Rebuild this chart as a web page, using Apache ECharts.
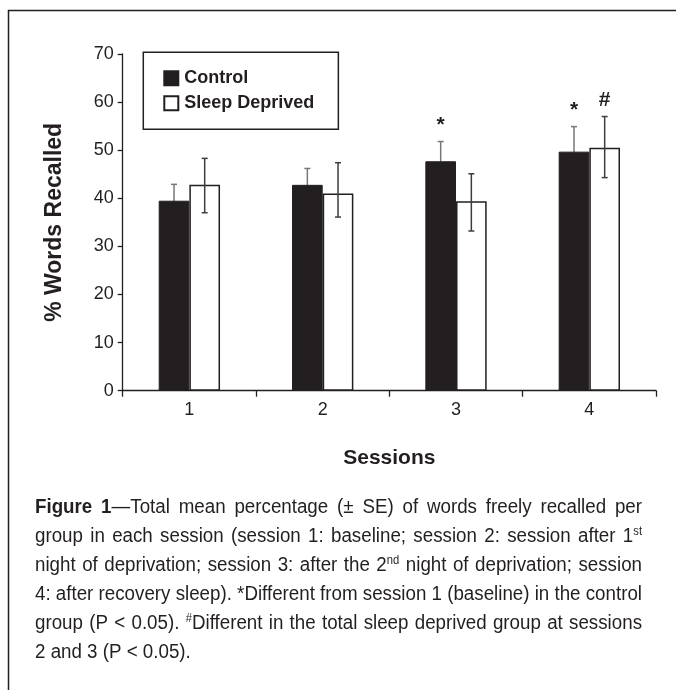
<!DOCTYPE html>
<html>
<head>
<meta charset="utf-8">
<script src="https://cdn.jsdelivr.net/npm/echarts@6/dist/echarts.min.js"></script>
<style>
html,body{margin:0;padding:0;background:#fff;}
#chart{width:676px;height:690px;}
</style>
</head>
<body>
<div id="chart"></div>
<script>
// ---- data ----
var categories = ['1', '2', '3', '4'];
var controlMean = [39.5, 42.8, 47.7, 49.7];
var controlLow  = [36.1, 39.4, 43.6, 44.5];
var controlHigh = [42.9, 46.2, 51.8, 54.9];
var sleepMean   = [42.8, 41.0, 39.4, 50.5];
var sleepLow    = [37.0, 36.1, 33.2, 44.3];
var sleepHigh   = [48.3, 47.4, 45.1, 57.0];
var controlMarks = ['', '', '*', '*'];
var sleepMarks   = ['', '', '', '#'];
var yMin = 0, yMax = 70, yStep = 10;
var seriesNames = ['Control', 'Sleep Deprived'];
var axisTitleX = 'Sessions';
var axisTitleY = '% Words Recalled';
var captionLines = [
  '{b|Figure 1}\u2014Total mean percentage (\u00b1 SE) of words freely recalled per',
  'group in each session (session 1: baseline; session 2: session after 1{sup|st}',
  'night of deprivation; session 3: after the 2{sup|nd} night of deprivation; session',
  '4: after recovery sleep). *Different from session 1 (baseline) in the control',
  'group (P < 0.05). {sup|#}Different in the total sleep deprived group at sessions',
  '2 and 3 (P < 0.05).'
];

// ---- style ----
var INK = '#231f20';
var FONT = '"Liberation Sans", Arial, sans-serif';
var BAR_FRAC = 0.23;

var chart = echarts.init(document.getElementById('chart'), null, {renderer: 'canvas'});

function errorRender(side, color) {
  return function (params, api) {
    var idx = api.value(0);
    var hi = api.coord([idx, api.value(2)]);
    var lo = api.coord([idx, api.value(1)]);
    var band = api.size([1, 0])[0];
    var cx = hi[0] + side * band * BAR_FRAC / 2;
    var cap = 3;
    var st = {stroke: color, lineWidth: 1.5};
    var mark = api.value(3);
    var children = [
      {type: 'line', shape: {x1: cx, y1: hi[1], x2: cx, y2: lo[1]}, style: st},
      {type: 'line', shape: {x1: cx - cap, y1: hi[1], x2: cx + cap, y2: hi[1]}, style: st},
      {type: 'line', shape: {x1: cx - cap, y1: lo[1], x2: cx + cap, y2: lo[1]}, style: st}
    ];
    if (mark) {
      children.push({type: 'text', style: {text: mark, x: cx, y: hi[1] - 6, align: 'center', verticalAlign: 'bottom',
        fontSize: 21, fontWeight: 'bold', fontFamily: FONT, fill: INK}});
    }
    return {type: 'group', children: children};
  };
}

// ---- caption (justified) ----
var CAP_LEFT = 35, CAP_RIGHT = 642, CAP_TOP = 507, CAP_STEP = 29;
var CAP_SIZE = 20, SUP_SIZE = 12;
var mctx = document.createElement('canvas').getContext('2d');
var richStyles = {
  n: {fontSize: CAP_SIZE, fontFamily: FONT, fill: INK, lineHeight: CAP_SIZE},
  b: {fontSize: CAP_SIZE, fontFamily: FONT, fontWeight: 'bold', fill: INK, lineHeight: CAP_SIZE},
  sup: {fontSize: SUP_SIZE, fontFamily: FONT, fill: INK, verticalAlign: 'top', lineHeight: SUP_SIZE}
};
function segWidth(seg) {
  var s = richStyles[seg.s];
  mctx.font = (s.fontWeight === 'bold' ? 'bold ' : '') + s.fontSize + 'px ' + FONT;
  return mctx.measureText(seg.t).width;
}
function parseLine(line) {
  var segs = [], re = /\{(\w+)\|([^}]*)\}/g, last = 0, m;
  while ((m = re.exec(line))) {
    if (m.index > last) segs.push({s: 'n', t: line.slice(last, m.index)});
    segs.push({s: m[1], t: m[2]});
    last = re.lastIndex;
  }
  if (last < line.length) segs.push({s: 'n', t: line.slice(last)});
  var words = [[]];
  segs.forEach(function (seg) {
    var parts = seg.t.split(' ');
    parts.forEach(function (p, k) {
      if (k > 0) words.push([]);
      if (p) words[words.length - 1].push({s: seg.s, t: p});
    });
  });
  return words.filter(function (w) { return w.length; });
}
mctx.font = CAP_SIZE + 'px ' + FONT;
var spaceW = mctx.measureText(' ').width;
var parsed = captionLines.map(function (line) {
  var words = parseLine(line);
  var widths = words.map(function (w) {
    return w.reduce(function (a, seg) { return a + segWidth(seg); }, 0);
  });
  var natural = widths.reduce(function (a, b) { return a + b; }, 0) + spaceW * (words.length - 1);
  return {words: words, widths: widths, natural: natural};
});
// horizontal condensing so that the tightest justified line fits exactly
var CAP_SCALE = 1;
parsed.forEach(function (p, li) {
  if (li < parsed.length - 1) CAP_SCALE = Math.min(CAP_SCALE, (CAP_RIGHT - CAP_LEFT) / p.natural);
});
var captionEls = [];
parsed.forEach(function (p, li) {
  var widths = p.widths.map(function (w) { return w * CAP_SCALE; });
  var total = widths.reduce(function (a, b) { return a + b; }, 0);
  var gap = spaceW * CAP_SCALE;
  if (li < parsed.length - 1 && p.words.length > 1) {
    gap = (CAP_RIGHT - CAP_LEFT - total) / (p.words.length - 1);
  }
  var x = CAP_LEFT;
  var y = CAP_TOP + li * CAP_STEP;
  p.words.forEach(function (w, wi) {
    captionEls.push({
      type: 'text', x: x, y: y, scaleX: CAP_SCALE, scaleY: 1, silent: true,
      style: {
        text: w.map(function (seg) { return '{' + seg.s + '|' + seg.t + '}'; }).join(''),
        rich: richStyles, x: 0, y: 0, align: 'left', verticalAlign: 'middle'
      }
    });
    x += widths[wi] + gap;
  });
});

var option = {
  animation: false,
  backgroundColor: '#fff',
  textStyle: {fontFamily: FONT, color: INK},
  grid: {left: 122.7, right: 20, top: 54, bottom: 299.3, containLabel: false},
  legend: {
    data: seriesNames, orient: 'vertical', left: 143.3, top: 52.3,
    padding: [17, 24, 17, 20], itemGap: 7, itemWidth: 14, itemHeight: 14,
    icon: 'rect', borderColor: INK, borderWidth: 1.5, borderRadius: 0,
    textStyle: {fontSize: 18, fontWeight: 'bold', fontFamily: FONT, color: INK, padding: [0, 0, 0, 1]},
    selectedMode: false
  },
  xAxis: {
    type: 'category', data: categories,
    name: axisTitleX, nameLocation: 'middle', nameGap: 57,
    nameTextStyle: {fontSize: 21, fontWeight: 'bold', fontFamily: FONT, color: INK},
    axisLine: {lineStyle: {color: INK, width: 1.3}},
    axisTick: {show: true, length: 6, alignWithLabel: false, lineStyle: {color: INK, width: 1.3}},
    axisLabel: {fontSize: 18, fontFamily: FONT, color: INK, margin: 10}
  },
  yAxis: {
    type: 'value', min: yMin, max: yMax, interval: yStep,
    name: axisTitleY, nameLocation: 'middle', nameGap: 57, nameRotate: 90,
    nameTextStyle: {fontSize: 23, fontWeight: 'bold', fontFamily: FONT, color: INK},
    axisLine: {show: true, lineStyle: {color: INK, width: 1.3}},
    axisTick: {show: true, length: 5, lineStyle: {color: INK, width: 1.3}},
    axisLabel: {fontSize: 18, fontFamily: FONT, color: INK, margin: 9},
    splitLine: {show: false}
  },
  series: [
    {
      name: seriesNames[0], type: 'bar', data: controlMean, barWidth: (BAR_FRAC * 100) + '%', barGap: '0%', z: 2,
      itemStyle: {color: INK, borderColor: INK, borderWidth: 1}
    },
    {
      name: seriesNames[1], type: 'bar', data: sleepMean, barWidth: (BAR_FRAC * 100) + '%', barGap: '0%', z: 2,
      itemStyle: {color: '#ffffff', borderColor: INK, borderWidth: 1.5}
    },
    {
      type: 'custom', z: 1, renderItem: errorRender(-1, '#77787b'),
      data: categories.map(function (c, i) { return [i, controlLow[i], controlHigh[i], controlMarks[i]]; }),
      encode: {x: 0, y: [1, 2]}
    },
    {
      type: 'custom', z: 3, renderItem: errorRender(1, '#3d3d3f'),
      data: categories.map(function (c, i) { return [i, sleepLow[i], sleepHigh[i], sleepMarks[i]]; }),
      encode: {x: 0, y: [1, 2]}
    }
  ],
  graphic: [
    {type: 'rect', silent: true, z: 0, shape: {x: 8.5, y: 10.5, width: 800, height: 800},
      style: {fill: 'none', stroke: INK, lineWidth: 1.5}}
  ].concat(captionEls)
};
chart.setOption(option);
</script>
</body>
</html>
